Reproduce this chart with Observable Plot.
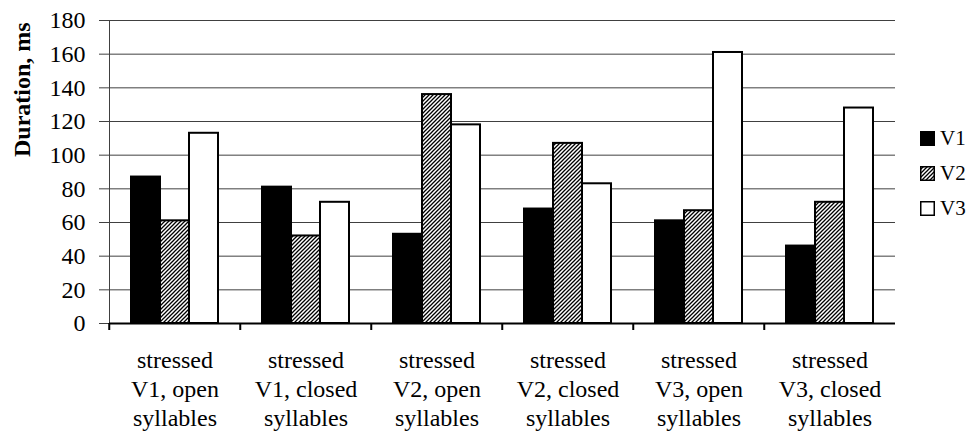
<!DOCTYPE html>
<html>
<head>
<meta charset="utf-8">
<script src="https://cdn.jsdelivr.net/npm/d3@7"></script>
<script src="https://cdn.jsdelivr.net/npm/@observablehq/plot@0.6"></script>
<style>
  html, body { margin: 0; padding: 0; background: #fff; }
  #wrap { position: relative; width: 966px; height: 432px; }
  #wrap svg text, #wrap svg tspan { font-family: "Liberation Serif", "DejaVu Serif", serif !important; }
  #legend { position: absolute; left: 920px; top: 121px; font-family: "Liberation Serif", "DejaVu Serif", serif; font-size: 21px; color: #000; }
  #legend .row { display: flex; align-items: center; height: 35px; }
  #legend svg { margin-right: 5px; }
</style>
</head>
<body>
<div id="wrap"><div id="legend"></div></div>
<script>
const categories = [
  "stressed\nV1, open\nsyllables",
  "stressed\nV1, closed\nsyllables",
  "stressed\nV2, open\nsyllables",
  "stressed\nV2, closed\nsyllables",
  "stressed\nV3, open\nsyllables",
  "stressed\nV3, closed\nsyllables"
];
const series = ["V1", "V2", "V3"];
const v1 = [87, 81, 53, 68, 61, 46];
const v2 = [61, 52, 136, 107, 67, 72];
const v3 = [113, 72, 118, 83, 161, 128];
const yTicks = [0, 20, 40, 60, 80, 100, 120, 140, 160, 180];
const yLabel = "Duration, ms";

const fills = ["#000", "url(#hatch)", "#fff"];
const values = [v1, v2, v3];
const data = categories.flatMap((c, i) => series.map((s, j) => ({category: c, series: s, value: values[j][i]})));

const W = 966, H = 432, ML = 107, MR = 70, MT = 20, MB = 109;
const step = (W - ML - MR) / categories.length;

const chart = Plot.plot({
  width: W, height: H,
  marginLeft: ML, marginRight: MR, marginTop: MT, marginBottom: MB,
  style: {fontFamily: "'Liberation Serif', 'DejaVu Serif', serif", fontSize: "24px", color: "#000", background: "#fff"},
  fx: {domain: categories, padding: 0, label: null},
  x: {domain: series, paddingInner: 0, paddingOuter: 0.72, axis: null},
  y: {domain: [0, 180], label: null},
  color: {domain: series, range: fills},
  marks: [
    Plot.gridY(yTicks, {stroke: "#404040", strokeOpacity: 1}),
    Plot.axisY(yTicks, {tickSize: 10, tickPadding: 14, stroke: "#404040", fontSize: 24, label: null}),
    Plot.frame({anchor: "left", facet: "super", stroke: "#404040"}),
    Plot.barY(data, {fx: "category", x: "series", y: "value", fill: "series", stroke: "#000", strokeWidth: 2}),
    Plot.ruleY([0], {stroke: "#000", strokeWidth: 2}),
    Plot.axisFx({anchor: "bottom", tickSize: 7, stroke: "#000", strokeWidth: 2, tickFormat: () => "", dx: -step / 2, label: null}),
    Plot.axisFx({anchor: "bottom", tickSize: 0, tickPadding: 24, lineHeight: 1.2, fontSize: 24, label: null}),
    Plot.text([yLabel], {text: d => d, frameAnchor: "left", rotate: -90, dx: -87, dy: -15, fontWeight: "bold", fontSize: 24, facet: "super"})
  ]
});

function addHatch(svgSel) {
  const p = svgSel.insert("defs", ":first-child").append("pattern")
    .attr("id", "hatch").attr("patternUnits", "userSpaceOnUse")
    .attr("width", 4).attr("height", 4);
  p.append("rect").attr("width", 4).attr("height", 4).attr("fill", "#fff");
  p.append("path").attr("d", "M-1,1 l2,-2 M0,4 l4,-4 M3,5 l2,-2")
    .attr("stroke", "#000").attr("stroke-width", 1.3);
}
addHatch(d3.select(chart));
document.getElementById("wrap").insertBefore(chart, document.getElementById("legend"));

const legend = d3.select("#legend");
series.forEach((s, j) => {
  const row = legend.append("div").attr("class", "row");
  const sv = row.append("svg").attr("width", 15).attr("height", 15);
  sv.append("rect").attr("x", 0.75).attr("y", 0.75).attr("width", 13.5).attr("height", 13.5)
    .attr("fill", fills[j]).attr("stroke", "#000").attr("stroke-width", 1.5);
  row.append("span").text(s);
});
</script>
</body>
</html>
